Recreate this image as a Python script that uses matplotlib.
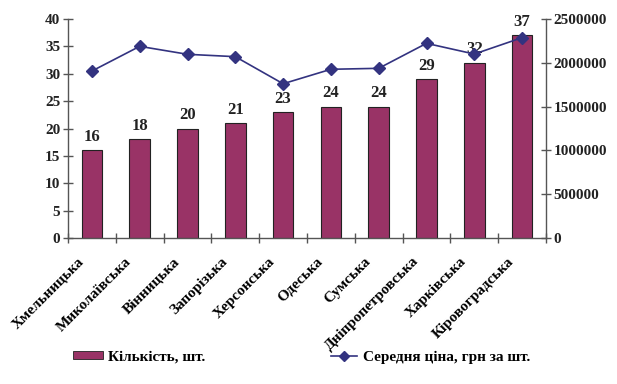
import matplotlib
matplotlib.use("Agg")
import matplotlib.pyplot as plt
import matplotlib.transforms as mtransforms
from matplotlib.lines import Line2D
from matplotlib.patches import Patch

categories = ["Хмельницька", "Миколаївська", "Вінницька", "Запорізька", "Херсонська",
              "Одеська", "Сумська", "Дніпропетровська", "Харківська", "Кіровоградська"]
counts = [16, 18, 20, 21, 23, 24, 24, 29, 32, 37]
prices = [1906000, 2188000, 2097000, 2070000, 1761000, 1926000, 1937000, 2222000, 2100000, 2287000]
left_ticks = [0, 5, 10, 15, 20, 25, 30, 35, 40]
right_ticks = [0, 500000, 1000000, 1500000, 2000000, 2500000]

plt.rcParams['font.family'] = ['Liberation Serif', 'DejaVu Serif']
plt.rcParams['font.weight'] = 'bold'

W, H = 617, 384
fig = plt.figure(figsize=(W/100, H/100), dpi=100)
ax = fig.add_axes([68/W, 1-238/H, (546-68)/W, (238-19)/H])
ax2 = ax.twinx()

bar_color = "#993366"
line_color = "#333380"
axis_color = "#555555"

x = list(range(len(categories)))
ax.bar(x, counts, width=0.43, color=bar_color, edgecolor="#222222", linewidth=0.8, zorder=2)
for xi, c in zip(x, counts):
    ax.text(xi, c + 1.0, str(c), ha='center', va='bottom', fontsize=12, fontweight='bold', color='#222222')

ax2.plot(x, prices, color=line_color, marker='D', markersize=6, linewidth=1.2, zorder=3)

ax.set_xlim(-0.5, len(categories) - 0.5)
ax.set_ylim(0, 40)
ax2.set_ylim(0, 2500000)
ax.set_yticks(left_ticks)
ax2.set_yticks(right_ticks)
ax.set_yticklabels([str(v) for v in left_ticks], fontsize=11, fontweight='bold')
ax2.set_yticklabels([str(v) for v in right_ticks], fontsize=11, fontweight='bold')

ax.set_xticks([i - 0.5 for i in range(len(categories) + 1)])
ax.set_xticklabels([])
ax.set_xticks(x, minor=True)
ax.set_xticklabels(categories, minor=True, rotation=45, ha='right', va='top',
                   rotation_mode='anchor', fontsize=11, fontweight='bold')
ax.tick_params(axis='x', which='minor', length=0, pad=2)
offset = mtransforms.ScaledTranslation(-15/100, -14/100, fig.dpi_scale_trans)
for lab in ax.xaxis.get_minorticklabels():
    lab.set_transform(lab.get_transform() + offset)

for a in (ax, ax2):
    for s in a.spines.values():
        s.set_visible(False)
    a.tick_params(colors='#222222', width=1.0)
ax.spines['left'].set_visible(True)
ax.spines['bottom'].set_visible(True)
ax2.spines['right'].set_visible(True)
for s in (ax.spines['left'], ax.spines['bottom'], ax2.spines['right']):
    s.set_color(axis_color)
    s.set_linewidth(1.0)
ax.tick_params(axis='y', direction='inout', length=7, color=axis_color, pad=2)
ax.tick_params(axis='x', which='major', direction='inout', length=7, color=axis_color)
ax2.tick_params(axis='y', direction='inout', length=7, color=axis_color, pad=2)

handles = [Patch(facecolor=bar_color, edgecolor='#222222', linewidth=0.6),
           Line2D([0], [0], color=line_color, marker='D', markersize=5, linewidth=1.2)]
fig.legend(handles[:1], ["Кількість, шт."], loc='center left', bbox_to_anchor=(59/W, 1-357/H),
           frameon=False, fontsize=11, handlelength=2.0, handleheight=0.45, handletextpad=0.3)
fig.legend(handles[1:], ["Середня ціна, грн за шт."], loc='center left', bbox_to_anchor=(317/W, 1-357/H),
           frameon=False, fontsize=11, handlelength=1.7, handletextpad=0.4)

fig.savefig("out.png", dpi=100)
